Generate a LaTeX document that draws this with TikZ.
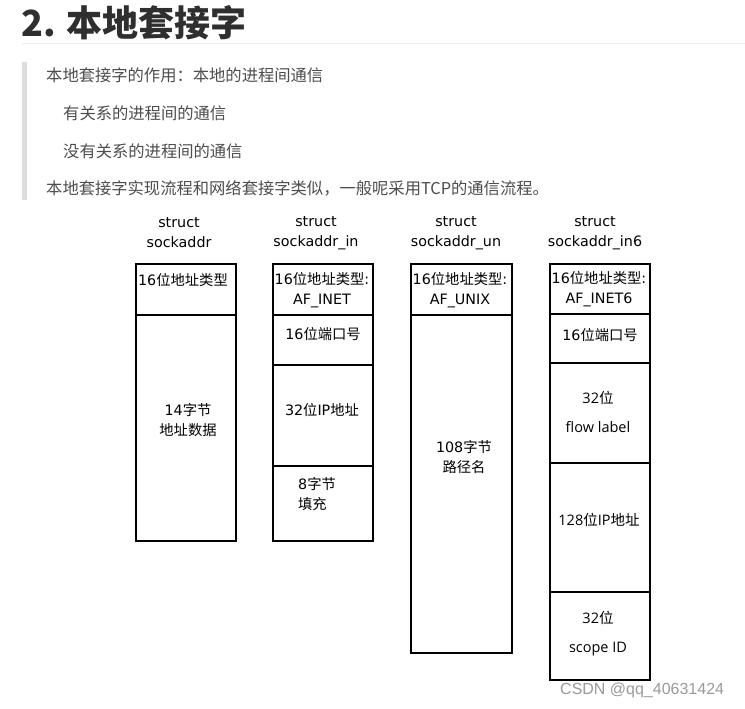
\documentclass[tikz,border=0pt]{standalone}
\usepackage{fontspec}
\setmainfont{DejaVu Sans}
\newfontfamily\cjk{Noto Sans CJK SC}
\newfontfamily\wmfont{Liberation Sans}
\newfontfamily\osans{Open Sans}
\newcommand\C[1]{{\cjk #1}}
\definecolor{bodygray}{HTML}{4D4D4D}
\definecolor{titlegray}{HTML}{2F2F2F}
\definecolor{rulegray}{HTML}{EEEEEE}
\definecolor{bargray}{HTML}{DDDDDD}
\definecolor{wmgray}{HTML}{9A9A9A}
\tikzset{
  cell/.style={draw=black, line width=2.2pt, anchor=north west, inner sep=0pt, minimum width=100pt},
  lbl/.style={font=\fontsize{14.3}{20}\selectfont, align=center, inner sep=0pt, text=black},
  para/.style={font=\cjk\fontsize{16.3}{18}\selectfont, anchor=west, inner sep=0pt, text=bodygray},
}
\begin{document}
\begin{tikzpicture}[x=1pt,y=-1pt]
\useasboundingbox (0,0) rectangle (745,709);
\fill[white] (0,0) rectangle (745,709);

% title
\node[anchor=west, inner sep=0pt, text=titlegray, font=\cjk\bfseries\fontsize{36}{40}\selectfont] (title) at (21,23) {2. 本地套接字};
\draw[rulegray, line width=1pt] (22,44) -- (745,44);
\fill[bargray] (22,62) rectangle (27,200);

\node[para] (p1) at (46,75) {本地套接字的作用：本地的进程间通信};
\node[para] (p2) at (63,113) {有关系的进程间的通信};
\node[para] (p3) at (63,151) {没有关系的进程间的通信};
\node[para] (p4) at (46,188) {本地套接字实现流程和网络套接字类似，一般呢采用TCP的通信流程。};

% headers
\node[lbl] (h1) at (179,233) {struct\\sockaddr};
\node[lbl] (h2) at (316,233) {struct\\sockaddr\_in};
\node[lbl] (h3) at (456,233) {struct\\sockaddr\_un};
\node[lbl] (h4) at (595,233) {struct\\sockaddr\_in6};

% box 1
\node[cell, minimum height=51pt] (b1a) at (135,263) {};
\node[cell, minimum height=226pt] (b1b) at (135,314) {};
\node[lbl] (t1a) at (183,280) {16\C{位地址类型}};
\node[lbl] (t1b) at (188,420) {14\C{字节}\\\C{地址数据}};

% box 2
\node[cell, minimum height=51pt] (b2a) at (272,263) {};
\node[cell, minimum height=50pt] (b2b) at (272,314) {};
\node[cell, minimum height=101pt] (b2c) at (272,364) {};
\node[cell, minimum height=75pt] (b2d) at (272,465) {};
\node[lbl] (t2a) at (322,290) {16\C{位地址类型}:\\AF\_INET};
\node[lbl] (t2b) at (323,334) {16\C{位端口号}};
\node[lbl] (t2c) at (322,410) {32\C{位}IP\C{地址}};
\node[lbl, align=left] (t2d) at (317,494) {8\C{字节}\\\C{填充}};

% box 3
\node[cell, minimum height=51pt, minimum width=101pt] (b3a) at (410,263) {};
\node[cell, minimum height=338pt, minimum width=101pt] (b3b) at (410,314) {};
\node[lbl] (t3a) at (460,290) {16\C{位地址类型}:\\AF\_UNIX};
\node[lbl] (t3b) at (464,457) {108\C{字节}\\\C{路径名}};

% box 4
\node[cell, minimum height=50pt] (b4a) at (549,263) {};
\node[cell, minimum height=49pt] (b4b) at (549,313) {};
\node[cell, minimum height=100pt] (b4c) at (549,362) {};
\node[cell, minimum height=129pt] (b4d) at (549,462) {};
\node[cell, minimum height=88pt] (b4e) at (549,591) {};
\node[lbl] (t4a) at (599,289) {16\C{位地址类型}:\\AF\_INET6};
\node[lbl] (t4b) at (600,335) {16\C{位端口号}};
\node[lbl, font=\osans\fontsize{14.5}{29}\selectfont] (t4c) at (598,412) {32\C{位}\\flow label};
\node[lbl, font=\osans\fontsize{14.5}{20}\selectfont] (t4d) at (599,520) {128\C{位}IP\C{地址}};
\node[lbl, font=\osans\fontsize{14.5}{29}\selectfont] (t4e) at (598,634) {32\C{位}\\scope ID};

% watermark
\node[anchor=west, inner sep=0pt, text=wmgray, font=\wmfont\fontsize{16}{18}\selectfont] (wm) at (560,690) {CSDN @qq\_40631424};
\end{tikzpicture}
\end{document}
